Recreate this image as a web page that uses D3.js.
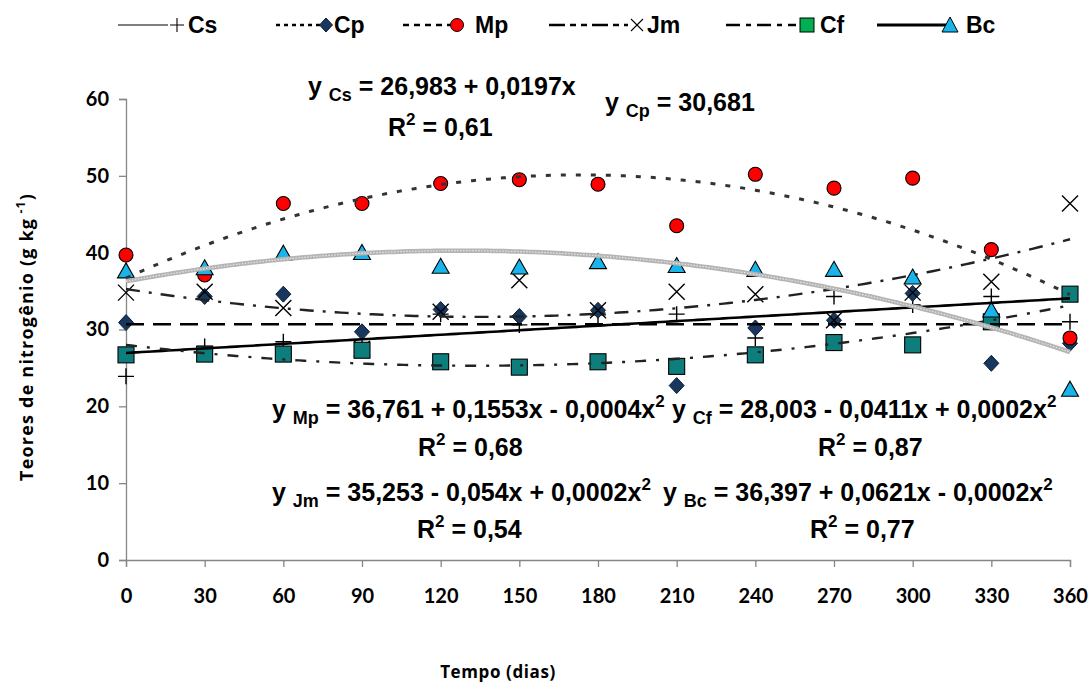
<!DOCTYPE html>
<html>
<head>
<meta charset="utf-8">
<script src="https://cdn.jsdelivr.net/npm/d3@7"></script>
<style>
  html, body { margin: 0; padding: 0; background: #fff; }
  svg { display: block; }
</style>
</head>
<body>
<svg id="chart" width="1090" height="684"></svg>
<script>
// ---------- DATA ----------
const days = [0, 30, 60, 90, 120, 150, 180, 210, 240, 270, 300, 330, 360];
const xTicks = [0, 30, 60, 90, 120, 150, 180, 210, 240, 270, 300, 330, 360];
const yTicks = [0, 10, 20, 30, 40, 50, 60];
const seriesNames = ["Cs", "Cp", "Mp", "Jm", "Cf", "Bc"];
const Cs = [23.9, 27.8, 28.4, 28.2, 32.0, 30.6, 31.9, 32.0, 28.9, 34.3, 33.2, 34.3, 31.0];
const Cp = [30.9, 34.3, 34.6, 29.7, 32.6, 31.7, 32.5, 22.7, 30.2, 31.2, 34.7, 25.6, 28.2];
const Mp = [39.7, 37.1, 46.4, 46.4, 49.0, 49.5, 48.9, 43.5, 50.2, 48.4, 49.7, 40.4, 28.9];
const Jm = [34.8, 34.9, 32.8, 27.5, 32.3, 36.4, 32.5, 34.9, 34.6, 31.2, 34.8, 36.2, 46.4];
const Cf = [26.7, 26.8, 26.8, 27.3, 25.8, 25.1, 25.8, 25.2, 26.7, 28.3, 28.0, 31.0, 34.6];
const Bc = [37.5, 37.9, 39.8, 39.9, 38.1, 38.0, 38.7, 38.2, 37.7, 37.7, 36.7, 32.4, 22.1];
const fitDegree = [1, 0, 2, 2, 2, 2];
const equations = [
  { name: "Cs", eq: [["y ", 0], ["Cs", 1], [" = 26,983 + 0,0197x", 0]], r2: "0,61" },
  { name: "Cp", eq: [["y ", 0], ["Cp", 1], [" = 30,681", 0]], r2: null },
  { name: "Mp", eq: [["y ", 0], ["Mp", 1], [" = 36,761 + 0,1553x - 0,0004x", 0], ["2", 2]], r2: "0,68" },
  { name: "Cf", eq: [["y ", 0], ["Cf", 1], [" = 28,003 - 0,0411x + 0,0002x", 0], ["2", 2]], r2: "0,87" },
  { name: "Jm", eq: [["y ", 0], ["Jm", 1], [" = 35,253 - 0,054x + 0,0002x", 0], ["2", 2]], r2: "0,54" },
  { name: "Bc", eq: [["y ", 0], ["Bc", 1], [" = 36,397 + 0,0621x - 0,0002x", 0], ["2", 2]], r2: "0,77" }
];

const values = { Cs, Cp, Mp, Jm, Cf, Bc };

// ---------- LAYOUT ----------
const svg = d3.select("#chart");
const x = d3.scaleLinear().domain([0, 360]).range([126, 1070]);
const y = d3.scaleLinear().domain([0, 60]).range([560, 99]);

const axisColor = "#868686";

// Axes
const yAxis = svg.append("g").attr("transform", `translate(${x(0)},0)`)
  .call(d3.axisLeft(y).tickValues(yTicks).tickSize(7).tickPadding(10).tickFormat(d3.format("d")));
const xAxis = svg.append("g").attr("transform", `translate(0,${y(0)})`)
  .call(d3.axisBottom(x).tickValues(xTicks).tickSize(7).tickPadding(22).tickFormat(d3.format("d")));
[yAxis, xAxis].forEach(a => {
  a.select(".domain").attr("stroke", axisColor).attr("stroke-width", 1.3);
  a.selectAll(".tick line").attr("stroke", axisColor).attr("stroke-width", 1.3);
  a.selectAll("text").attr("fill", "#000").attr("font-family", "Lato, 'Open Sans', sans-serif")
    .attr("font-weight", "bold").attr("font-size", "20px");
});

// Axis titles
svg.append("text").attr("x", 498).attr("y", 678).attr("text-anchor", "middle")
  .attr("font-family", "'Open Sans', sans-serif").attr("font-weight", "bold").attr("font-size", "17px")
  .attr("letter-spacing", "0.6px").text("Tempo (dias)");
const yt = svg.append("text").attr("transform", "translate(33,337) rotate(-90)").attr("text-anchor", "middle")
  .attr("font-family", "'Open Sans', sans-serif").attr("font-weight", "bold").attr("font-size", "18px")
  .attr("letter-spacing", "1.2px");
yt.append("tspan").text("Teores de nitrogênio (g kg");
yt.append("tspan").attr("font-size", "12px").attr("dy", -8).text(" -1");
yt.append("tspan").attr("dy", 8).text(")");

// ---------- MARKERS ----------
const markerStyle = {
  Cs: { type: "plus" },
  Cp: { type: "diamond", fill: "#17375E" },
  Mp: { type: "circle", fill: "#FF0000" },
  Jm: { type: "cross" },
  Cf: { type: "square", fill: "#0E7E7D" },
  Bc: { type: "triangle", fill: "#19B4EA" }
};
function drawMarker(g, type, cx, cy, fill) {
  if (type === "plus") {
    g.append("path").attr("d", `M${cx - 8},${cy}H${cx + 8}M${cx},${cy - 8}V${cy + 8}`)
      .attr("stroke", "#000").attr("stroke-width", 1.4).attr("fill", "none");
  } else if (type === "cross") {
    g.append("path").attr("d", `M${cx - 8},${cy - 8}L${cx + 8},${cy + 8}M${cx - 8},${cy + 8}L${cx + 8},${cy - 8}`)
      .attr("stroke", "#000").attr("stroke-width", 1.4).attr("fill", "none");
  } else if (type === "diamond") {
    g.append("path").attr("d", `M${cx},${cy - 8}L${cx + 7.5},${cy}L${cx},${cy + 8}L${cx - 7.5},${cy}Z`)
      .attr("fill", fill).attr("stroke", "#0b1d33").attr("stroke-width", 1);
  } else if (type === "circle") {
    g.append("circle").attr("cx", cx).attr("cy", cy).attr("r", 7)
      .attr("fill", fill).attr("stroke", "#000").attr("stroke-width", 1.1);
  } else if (type === "square") {
    g.append("rect").attr("x", cx - 8).attr("y", cy - 8).attr("width", 16).attr("height", 16)
      .attr("fill", fill).attr("stroke", "#000").attr("stroke-width", 1.1);
  } else if (type === "triangle") {
    g.append("path").attr("d", `M${cx},${cy - 9}L${cx + 8.5},${cy + 6}L${cx - 8.5},${cy + 6}Z`)
      .attr("fill", fill).attr("stroke", "#000").attr("stroke-width", 1.1);
  }
}
const markersG = svg.append("g");
seriesNames.forEach(name => {
  const st = markerStyle[name];
  values[name].forEach((v, i) => drawMarker(markersG, st.type, x(days[i]), y(v), st.fill));
});

// ---------- TREND LINES (least squares on the data) ----------
function polyfit(xs, ys, deg) {
  const n = deg + 1;
  const A = Array.from({ length: n }, () => new Array(n + 1).fill(0));
  xs.forEach((xv, k) => {
    for (let i = 0; i < n; i++) {
      for (let j = 0; j < n; j++) A[i][j] += Math.pow(xv, i + j);
      A[i][n] += ys[k] * Math.pow(xv, i);
    }
  });
  for (let i = 0; i < n; i++) {
    let p = i;
    for (let r = i + 1; r < n; r++) if (Math.abs(A[r][i]) > Math.abs(A[p][i])) p = r;
    [A[i], A[p]] = [A[p], A[i]];
    for (let r = 0; r < n; r++) {
      if (r === i) continue;
      const f = A[r][i] / A[i][i];
      for (let c = i; c <= n; c++) A[r][c] -= f * A[i][c];
    }
  }
  return A.map((row, i) => row[n] / row[i]);
}
const trendStyle = {
  Cs: { stroke: "#000", width: 2.6, dash: null },
  Cp: { stroke: "#000", width: 2.6, dash: "18,9" },
  Mp: { stroke: "#333", width: 3, dash: "5,10" },
  Jm: { stroke: "#222", width: 2.4, dash: "14,9,3,9" },
  Cf: { stroke: "#222", width: 2.4, dash: "11,10,3,10" },
  Bc: { stroke: "#b4b4b4", width: 4.5, dash: null }
};
const samples = d3.range(0, 360.1, 2);
const lineGen = d3.line().x(d => x(d[0])).y(d => y(d[1]));
const linesG = svg.append("g");
seriesNames.forEach((name, si) => {
  const coef = polyfit(days, values[name], fitDegree[si]);
  const pts = samples.map(t => [t, coef.reduce((s, c, k) => s + c * Math.pow(t, k), 0)]);
  const st = trendStyle[name];
  const p = linesG.append("path").attr("d", lineGen(pts)).attr("fill", "none")
    .attr("stroke", st.stroke).attr("stroke-width", st.width);
  if (st.dash) p.attr("stroke-dasharray", st.dash);
  if (name === "Bc") {
    linesG.append("path").attr("d", lineGen(pts)).attr("fill", "none")
      .attr("stroke", "#e6e6e6").attr("stroke-width", 1.2).attr("stroke-dasharray", "1.5,1.5");
  }
});

// ---------- EQUATION LABELS ----------
const eqPos = {
  Cs: { x: 308, y: 95, rx: 388, ry: 136 },
  Cp: { x: 605, y: 111 },
  Mp: { x: 272, y: 418, rx: 418, ry: 456 },
  Cf: { x: 672, y: 418, rx: 818, ry: 456 },
  Jm: { x: 272, y: 501, rx: 417, ry: 538 },
  Bc: { x: 663, y: 501, rx: 810, ry: 538 }
};
const eqFont = "'Liberation Sans', Arial, sans-serif";
equations.forEach(e => {
  const pos = eqPos[e.name];
  const t = svg.append("text").attr("x", pos.x).attr("y", pos.y)
    .attr("font-family", eqFont).attr("font-weight", "bold").attr("font-size", "25px").attr("fill", "#000");
  let shift = 0;
  e.eq.forEach(([s, kind]) => {
    const target = kind === 1 ? 6 : kind === 2 ? -11 : 0;
    const ts = t.append("tspan").attr("dy", target - shift).text(s);
    if (kind === 1) ts.attr("font-size", "18px");
    if (kind === 2) ts.attr("font-size", "17px");
    shift = target;
  });
  if (e.r2) {
    const r = svg.append("text").attr("x", pos.rx).attr("y", pos.ry)
      .attr("font-family", eqFont).attr("font-weight", "bold").attr("font-size", "25px").attr("fill", "#000");
    r.append("tspan").text("R");
    r.append("tspan").attr("dy", -11).attr("font-size", "17px").text("2");
    r.append("tspan").attr("dy", 11).text(" = " + e.r2);
  }
});

// ---------- LEGEND ----------
const legendItems = [
  { name: "Cs", x1: 118, x2: 168, mx: 177, tx: 188, dash: null, w: 1.2, marker: "plus", fill: null },
  { name: "Cp", x1: 276, x2: 320, mx: 326, tx: 334, dash: "4,4", w: 2.5, marker: "diamond", fill: "#17375E" },
  { name: "Mp", x1: 403, x2: 450, mx: 457, tx: 475, dash: "6,5", w: 2.5, marker: "circle", fill: "#FF0000" },
  { name: "Jm", x1: 549, x2: 628, mx: 637, tx: 647, dash: "16,5,6,5,6,5", w: 2.5, marker: "cross", fill: null },
  { name: "Cf", x1: 726, x2: 796, mx: 807, tx: 820, dash: "14,6,5,6", w: 2.5, marker: "square", fill: "#00B050" },
  { name: "Bc", x1: 877, x2: 947, mx: 950, tx: 966, dash: null, w: 2.8, marker: "triangle", fill: "#19B4EA" }
];
const lg = svg.append("g");
legendItems.forEach(it => {
  const ly = 25;
  const l = lg.append("line").attr("x1", it.x1).attr("x2", it.x2).attr("y1", ly).attr("y2", ly)
    .attr("stroke", "#000").attr("stroke-width", it.w);
  if (it.dash) l.attr("stroke-dasharray", it.dash);
  if (it.marker === "plus") {
    lg.append("path").attr("d", `M${it.mx - 7},${ly}H${it.mx + 7}M${it.mx},${ly - 7}V${ly + 7}`)
      .attr("stroke", "#000").attr("stroke-width", 1.1);
  } else if (it.marker === "cross") {
    lg.append("path").attr("d", `M${it.mx - 6},${ly - 6}L${it.mx + 6},${ly + 6}M${it.mx - 6},${ly + 6}L${it.mx + 6},${ly - 6}`)
      .attr("stroke", "#000").attr("stroke-width", 1.1);
  } else if (it.marker === "diamond") {
    lg.append("path").attr("d", `M${it.mx},${ly - 7}L${it.mx + 6.5},${ly}L${it.mx},${ly + 7}L${it.mx - 6.5},${ly}Z`)
      .attr("fill", it.fill).attr("stroke", "#0b1d33");
  } else if (it.marker === "circle") {
    lg.append("circle").attr("cx", it.mx).attr("cy", ly).attr("r", 6.5).attr("fill", it.fill).attr("stroke", "#000");
  } else if (it.marker === "square") {
    lg.append("rect").attr("x", it.mx - 7).attr("y", ly - 7).attr("width", 14).attr("height", 14)
      .attr("fill", it.fill).attr("stroke", "#000");
  } else if (it.marker === "triangle") {
    lg.append("path").attr("d", `M${it.mx},${ly - 8}L${it.mx + 8},${ly + 7}L${it.mx - 8},${ly + 7}Z`)
      .attr("fill", it.fill).attr("stroke", "#000");
  }
  lg.append("text").attr("x", it.tx).attr("y", ly + 8).attr("font-family", eqFont)
    .attr("font-weight", "bold").attr("font-size", "23px").text(it.name);
});
</script>
</body>
</html>
